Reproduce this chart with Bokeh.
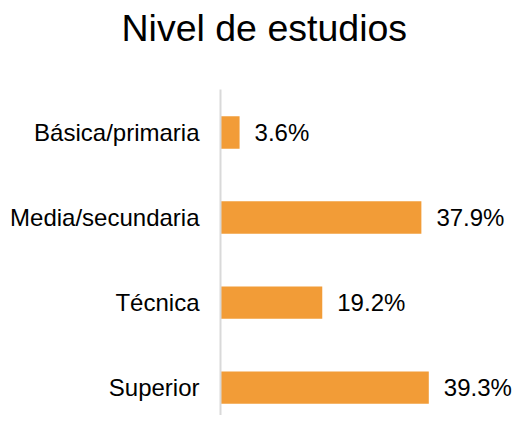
from bokeh.plotting import figure
from bokeh.models import ColumnDataSource, Range1d, FixedTicker, Title
from bokeh.core.properties import value
from bokeh.embed import file_html
from bokeh.resources import INLINE

categories = ["Básica/primaria", "Media/secundaria", "Técnica", "Superior"]
percentages = [3.6, 37.9, 19.2, 39.3]
title_text = "Nivel de estudios"

FONT = "Liberation Sans"
BAR_COLOR = "#F29C37"

idx = list(range(len(categories)))
src = ColumnDataSource(dict(
    y=idx,
    v=percentages,
    lbl=[f"{v:.1f}%" for v in percentages],
))

p = figure(width=514, height=415, output_backend="svg", toolbar_location=None,
           x_range=Range1d(0, 55.47), y_range=Range1d(3.329, -0.506),
           min_border_left=220, min_border_right=0, min_border_bottom=0,
           min_border_top=0)

# spacer between the title and the plot area (added first -> closest to frame)
spacer = Title(text=" ", text_font=FONT, text_font_size="1px", standoff=34)
p.add_layout(spacer, "above")

t = Title(text=title_text, align="left", offset=-99,
          text_font=FONT, text_font_size="37.5px", text_font_style="normal",
          text_color="#000000", standoff=8)
p.add_layout(t, "above")

p.hbar(y="y", right="v", left=0, height=0.38, source=src,
       fill_color=BAR_COLOR, line_color=None)
p.text(x="v", y="y", text="lbl", source=src, x_offset=15,
       text_baseline="middle", text_align="left",
       text_font=value(FONT), text_font_size="24px", text_color="#000000")

p.xaxis.visible = False
p.xgrid.visible = False
p.ygrid.visible = False
p.outline_line_color = None

ya = p.yaxis[0]
ya.ticker = FixedTicker(ticks=idx)
ya.major_label_overrides = {i: c for i, c in zip(idx, categories)}
ya.axis_line_color = "#D9D9D9"
ya.axis_line_width = 2
ya.major_tick_line_color = None
ya.minor_tick_line_color = None
ya.major_tick_out = 0
ya.major_tick_in = 0
ya.major_label_standoff = 21
ya.major_label_text_font = FONT
ya.major_label_text_font_size = "24px"
ya.major_label_text_color = "#000000"

open("out.html", "w").write(file_html(p, INLINE))
